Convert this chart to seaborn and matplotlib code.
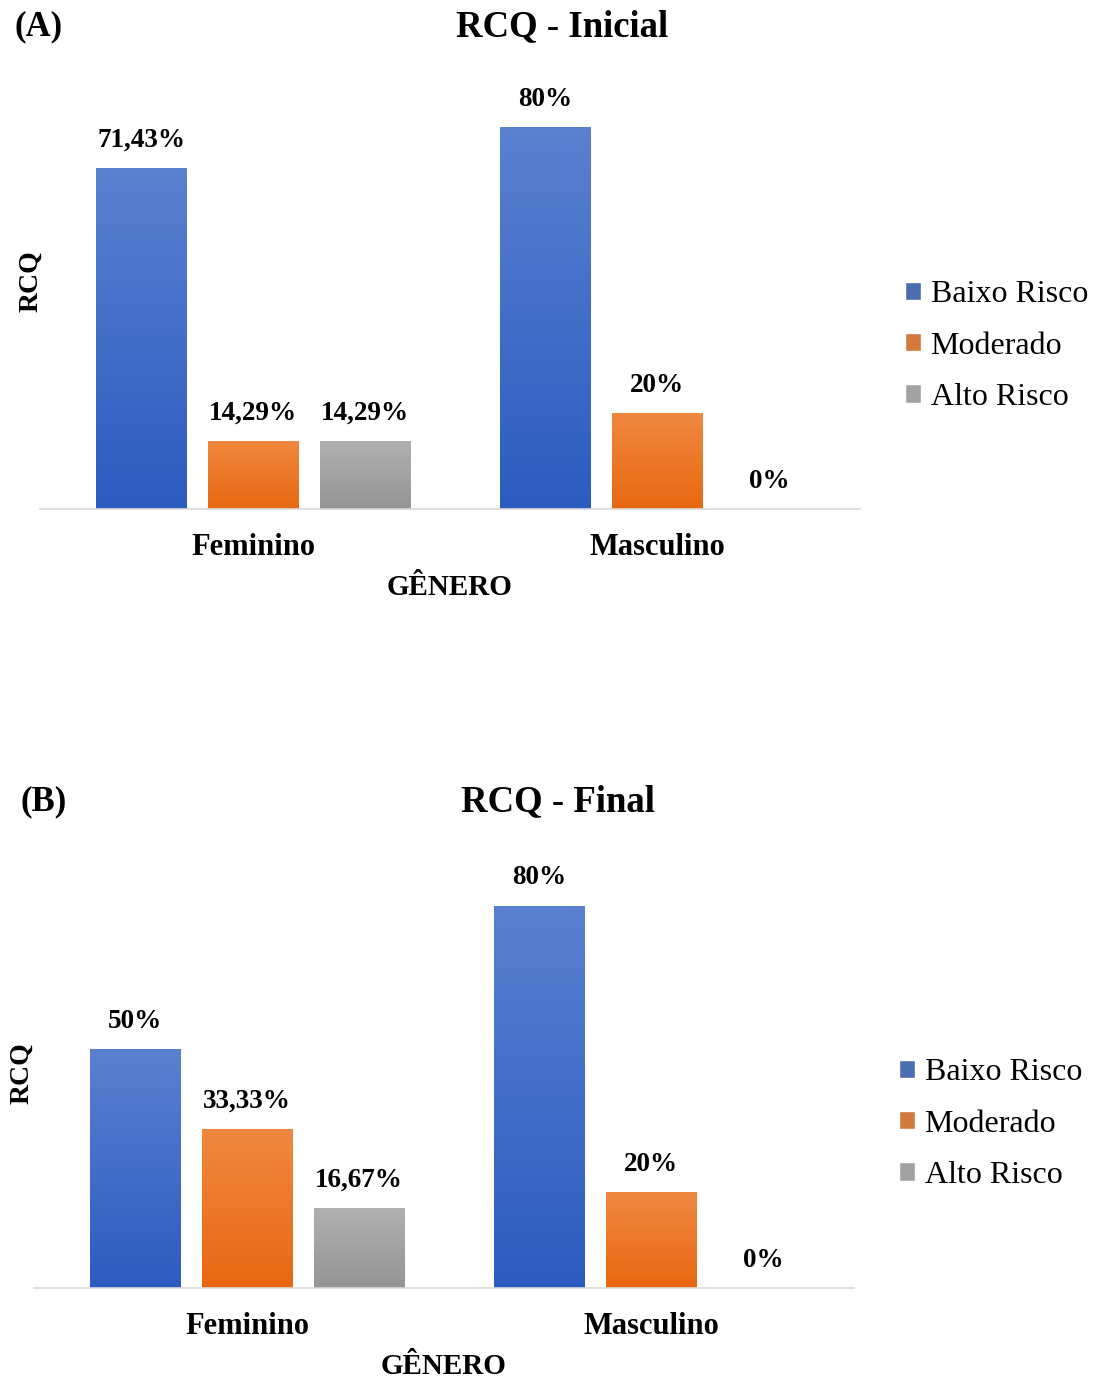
import numpy as np
import pandas as pd
import matplotlib
matplotlib.use("Agg")
import matplotlib.pyplot as plt
from matplotlib.colors import LinearSegmentedColormap
import seaborn as sns

# Dados
generos = ["Feminino", "Masculino"]
riscos = ["Baixo Risco", "Moderado", "Alto Risco"]
rcq_inicial = {"Baixo Risco": [71.43, 80.0], "Moderado": [14.29, 20.0], "Alto Risco": [14.29, 0.0]}
rcq_final = {"Baixo Risco": [50.0, 80.0], "Moderado": [33.33, 20.0], "Alto Risco": [16.67, 0.0]}

cores = {"Baixo Risco": "#3a68c4", "Moderado": "#ec7424", "Alto Risco": "#a2a2a2"}
grad = {
    "Baixo Risco": ("#5a80d0", "#2c5cc0"),
    "Moderado": ("#f08840", "#e86812"),
    "Alto Risco": ("#b0b0b0", "#959595"),
}


def to_df(d):
    rows = []
    for r in riscos:
        for g, v in zip(generos, d[r]):
            rows.append({"genero": g, "risco": r, "valor": v})
    return pd.DataFrame(rows)


def fmt(v):
    if float(v).is_integer():
        return f"{int(v)}%"
    return f"{v:.2f}%".replace(".", ",")


sns.set_theme(style="white")
plt.rcParams["font.family"] = ["Liberation Serif", "DejaVu Serif"]
plt.rcParams["text.color"] = "black"
plt.rcParams["axes.labelcolor"] = "black"
plt.rcParams["xtick.color"] = "black"

fig = plt.figure(figsize=(10.98, 13.87), dpi=100)


def painel(rect, dados, titulo, letra, pos_tit, pos_letra, pos_leg, ylab_xy):
    ax = fig.add_axes(rect)
    df = to_df(dados)
    sns.barplot(data=df, x="genero", y="valor", hue="risco", order=generos,
                hue_order=riscos, palette=cores, width=0.83, gap=0.195,
                ax=ax, legend=True)
    # gradiente vertical nas barras
    for cont, r in zip(ax.containers, riscos):
        cmap = LinearSegmentedColormap.from_list(r, [grad[r][1], grad[r][0]])
        for p in cont.patches:
            x0, y0 = p.get_x(), p.get_y()
            w, h = p.get_width(), p.get_height()
            if h <= 0:
                continue
            img = np.linspace(0, 1, 100).reshape(-1, 1)
            im = ax.imshow(img, cmap=cmap, aspect="auto", origin="lower",
                           extent=[x0, x0 + w, y0, y0 + h], zorder=p.get_zorder() + 0.1)
            im.set_clip_path(p)
        ax.bar_label(cont, labels=[fmt(v) for v in cont.datavalues], padding=11,
                     fontsize=19.5, fontweight="bold", color="black")
    ax.set_xlim(-0.527, 1.502)
    ax.set_ylim(0, 90)
    ax.set_yticks([])
    ax.set_ylabel("RCQ", fontsize=20, fontweight="bold")
    ax.yaxis.set_label_coords(*ylab_xy)
    ax.set_xlabel("GÊNERO", fontsize=21, fontweight="bold", labelpad=9)
    ax.tick_params(axis="x", length=0, pad=17)
    for t in ax.get_xticklabels():
        t.set_fontsize(22)
        t.set_fontweight("bold")
    for s in ["top", "left", "right"]:
        ax.spines[s].set_visible(False)
    ax.spines["bottom"].set_color("#d9d9d9")
    ax.spines["bottom"].set_linewidth(1.2)
    ax.legend(loc="center left", bbox_to_anchor=pos_leg, bbox_transform=fig.transFigure,
              frameon=False, fontsize=23, handlelength=0.5, handleheight=0.5,
              handletextpad=0.3, labelspacing=0.7, borderpad=0)
    fig.text(pos_tit[0], pos_tit[1], titulo, ha="center", va="center",
             fontsize=26.5, fontweight="bold")
    fig.text(pos_letra[0], pos_letra[1], letra, ha="left", va="center",
             fontsize=25, fontweight="bold")
    return ax


painel([40 / 1098, 878 / 1387, 820 / 1098, 430 / 1387], rcq_inicial, "RCQ - Inicial", "(A)",
       (562 / 1098, 1 - 27 / 1387), (14 / 1098, 1 - 27 / 1387), (889 / 1098, 1 - 346 / 1387),
       (0.004, 0.53))
painel([34 / 1098, 99 / 1387, 820 / 1098, 430 / 1387], rcq_final, "RCQ - Final", "(B)",
       (558 / 1098, 1 - 802 / 1387), (21 / 1098, 1 - 802 / 1387), (883 / 1098, 1 - 1124 / 1387),
       (0.0, 0.5))

fig.savefig("out.png", dpi=100, facecolor="white")
